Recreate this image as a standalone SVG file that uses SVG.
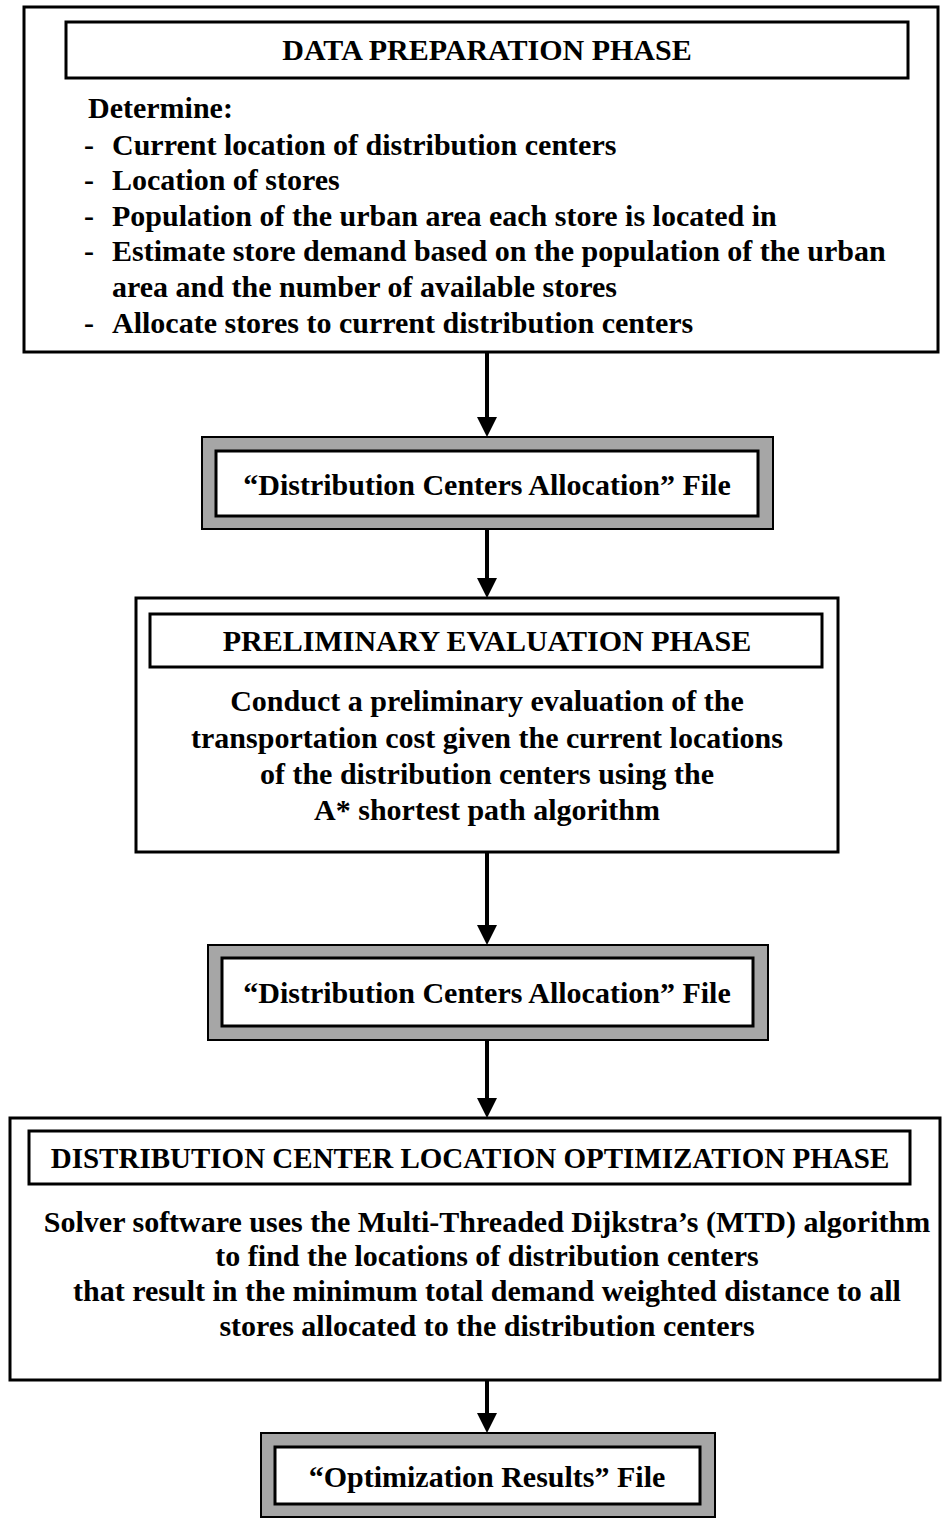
<svg xmlns="http://www.w3.org/2000/svg" width="951" height="1519" viewBox="0 0 951 1519">
<style>
text{font-family:"Liberation Serif","Times New Roman",serif;font-weight:bold;font-size:30px;fill:#000}
.c{text-anchor:middle}
.box{fill:#fff;stroke:#000;stroke-width:3}
.fo{fill:#a6a6a6;stroke:#000;stroke-width:2}
.fi{fill:#fff;stroke:#000;stroke-width:3}
.ln{stroke:#000;stroke-width:4;fill:none}
.ah{fill:#000}
</style>
<g id="connectors">
<line class="ln" x1="487" y1="352" x2="487" y2="419"/><polygon class="ah" points="477,417 497,417 487,437"/>
<line class="ln" x1="487" y1="529" x2="487" y2="580"/><polygon class="ah" points="477,578 497,578 487,598"/>
<line class="ln" x1="487" y1="852" x2="487" y2="927"/><polygon class="ah" points="477,925 497,925 487,945"/>
<line class="ln" x1="487" y1="1040" x2="487" y2="1100"/><polygon class="ah" points="477,1098 497,1098 487,1118"/>
<line class="ln" x1="487" y1="1380" x2="487" y2="1415"/><polygon class="ah" points="477,1413 497,1413 487,1433"/>
</g>
<g id="data-prep">
<rect class="box" x="24" y="7" width="914" height="345"/>
<rect class="box" x="66" y="22" width="842" height="56"/>
<text class="c" x="487" y="60">DATA PREPARATION PHASE</text>
<text x="88" y="118">Determine:</text>
<text x="84" y="155">-</text><text x="112" y="155">Current location of distribution centers</text>
<text x="84" y="190">-</text><text x="112" y="190">Location of stores</text>
<text x="84" y="226">-</text><text x="112" y="226">Population of the urban area each store is located in</text>
<text x="84" y="261">-</text><text x="112" y="261">Estimate store demand based on the population of the urban</text>
<text x="112" y="297">area and the number of available stores</text>
<text x="84" y="333">-</text><text x="112" y="333">Allocate stores to current distribution centers</text>
</g>
<g id="file1">
<rect class="fo" x="202" y="437" width="571" height="92"/>
<rect class="fi" x="216" y="451" width="542" height="65"/>
<text class="c" x="487" y="495">“Distribution Centers Allocation” File</text>
</g>
<g id="prelim">
<rect class="box" x="136" y="598" width="702" height="254"/>
<rect class="box" x="150" y="614" width="672" height="53"/>
<text class="c" x="487" y="651">PRELIMINARY EVALUATION PHASE</text>
<text class="c" x="487" y="711">Conduct a preliminary evaluation of the</text>
<text class="c" x="487" y="748">transportation cost given the current locations</text>
<text class="c" x="487" y="784">of the distribution centers using the</text>
<text class="c" x="487" y="820">A* shortest path algorithm</text>
</g>
<g id="file2">
<rect class="fo" x="208" y="945" width="560" height="95"/>
<rect class="fi" x="222" y="958" width="531" height="68"/>
<text class="c" x="487" y="1003">“Distribution Centers Allocation” File</text>
</g>
<g id="optim">
<rect class="box" x="10" y="1118" width="930" height="262"/>
<rect class="box" x="29" y="1131" width="881" height="53"/>
<text class="c" x="470" y="1168" style="font-size:29px">DISTRIBUTION CENTER LOCATION OPTIMIZATION PHASE</text>
<text class="c" x="487" y="1232">Solver software uses the Multi-Threaded Dijkstra’s (MTD) algorithm</text>
<text class="c" x="487" y="1266">to find the locations of distribution centers</text>
<text class="c" x="487" y="1301">that result in the minimum total demand weighted distance to all</text>
<text class="c" x="487" y="1336">stores allocated to the distribution centers</text>
</g>
<g id="results">
<rect class="fo" x="261" y="1433" width="454" height="84"/>
<rect class="fi" x="275" y="1447" width="425" height="57"/>
<text class="c" x="487" y="1487">“Optimization Results” File</text>
</g>
</svg>
